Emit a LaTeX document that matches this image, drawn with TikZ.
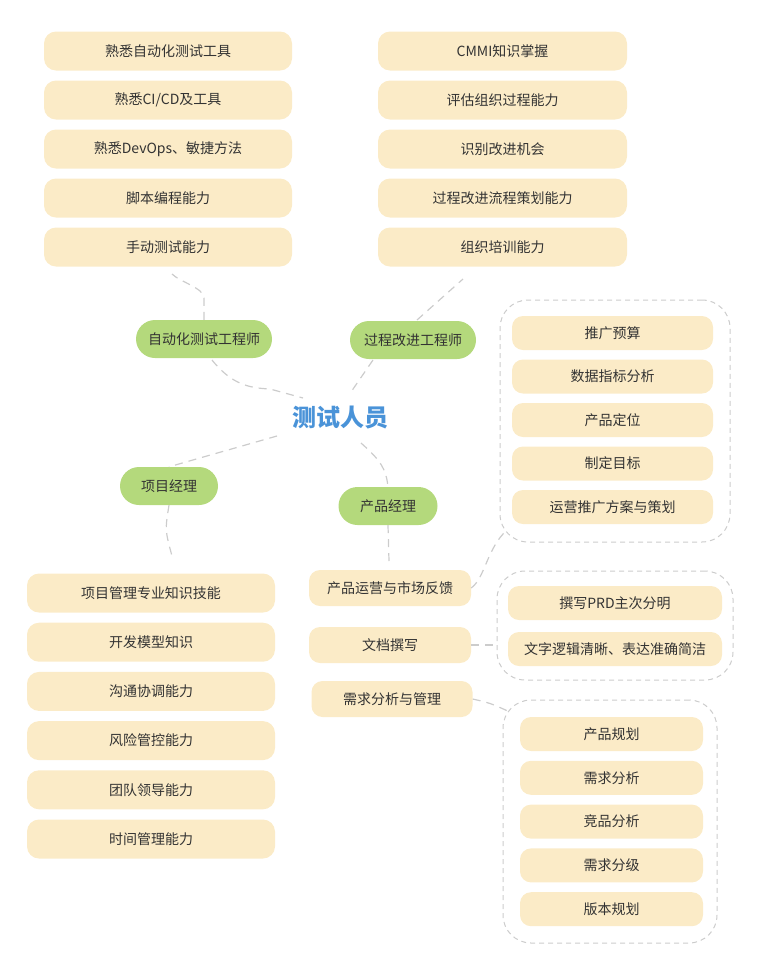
\documentclass[tikz,border=0pt]{standalone}
\usepackage{fontspec}
\setmainfont{Noto Sans CJK SC}
\usetikzlibrary{positioning}
\definecolor{itemfill}{HTML}{FBEBC7}
\definecolor{rolefill}{HTML}{B4D97C}
\definecolor{titleblue}{HTML}{4A93D8}
\definecolor{linkgray}{HTML}{CCCCCC}
\definecolor{textgray}{HTML}{333333}
\begin{document}
\begin{tikzpicture}[x=1pt,y=-1pt,
    item/.style={fill=itemfill, rounded corners=12pt, minimum height=39pt, inner sep=0pt,
        text=textgray, font=\fontsize{14}{17}\selectfont},
    smallitem/.style={item, minimum height=34pt, rounded corners=11pt},
    role/.style={fill=rolefill, rounded corners=19pt, minimum height=38pt, inner sep=0pt,
        text=textgray, font=\fontsize{14}{17}\selectfont},
    link/.style={draw=linkgray, line width=1.2pt, dash pattern=on 8pt off 6pt},
    group/.style={draw=linkgray, line width=1pt, dash pattern=on 5pt off 4pt, rounded corners=28pt}]
    \useasboundingbox (0,0) rectangle (760,970);
    % Center
    \node[text=titleblue, font=\fontsize{24}{28}\selectfont\bfseries] (tester) at (340,418) {测试人员};
    % Roles
    \node[role, minimum width=136pt] (autoeng) at (204,339) {自动化测试工程师};
    \node[role, minimum width=126pt] (proceng) at (413,340) {过程改进工程师};
    \node[role, minimum width=98pt] (pm) at (169,486) {项目经理};
    \node[role, minimum width=99pt] (prodm) at (388,506) {产品经理};
    % Automation engineer skills
    \foreach \txt [count=\i] in {熟悉自动化测试工具, 熟悉CI/CD及工具, 熟悉DevOps、敏捷方法, 脚本编程能力, 手动测试能力}
        \node[item, minimum width=248pt] (auto\i) at (168,{51+49*(\i-1)}) {\txt};
    % Process engineer skills
    \foreach \txt [count=\i] in {CMMI知识掌握, 评估组织过程能力, 识别改进机会, 过程改进流程策划能力, 组织培训能力}
        \node[item, minimum width=249pt] (proc\i) at (502.5,{51+49*(\i-1)}) {\txt};
    % Project manager skills
    \foreach \txt [count=\i] in {项目管理专业知识技能, 开发模型知识, 沟通协调能力, 风险管控能力, 团队领导能力, 时间管理能力}
        \node[item, minimum width=248pt] (pmskill\i) at (151,{593+49.2*(\i-1)}) {\txt};
    % Product manager areas
    \node[smallitem, minimum width=162pt, minimum height=36pt] (ops) at (390,588) {产品运营与市场反馈};
    \node[smallitem, minimum width=162pt, minimum height=36pt] (doc) at (390,645) {文档撰写};
    \node[smallitem, minimum width=161pt, minimum height=36pt] (req) at (392,699) {需求分析与管理};
    % Groups
    \node[group, minimum width=230pt, minimum height=242pt] (opsgroup) at (615,421) {};
    \node[group, minimum width=236pt, minimum height=109pt] (docgroup) at (615,625.5) {};
    \node[group, minimum width=214pt, minimum height=243pt] (reqgroup) at (610,821.5) {};
    \foreach \txt [count=\i] in {推广预算, 数据指标分析, 产品定位, 制定目标, 运营推广方案与策划}
        \node[smallitem, minimum width=201pt] (ops\i) at (612.5,{333+43.5*(\i-1)}) {\txt};
    \foreach \txt [count=\i] in {撰写PRD主次分明, 文字逻辑清晰、表达准确简洁}
        \node[smallitem, minimum width=214pt] (doc\i) at (615,{603+46*(\i-1)}) {\txt};
    \foreach \txt [count=\i] in {产品规划, 需求分析, 竞品分析, 需求分级, 版本规划}
        \node[smallitem, minimum width=183pt] (req\i) at (611.5,{734+43.8*(\i-1)}) {\txt};
    % Free ends of connectors
    \coordinate (autotop) at (172,274);
    \coordinate (autocenter) at (303,398);
    \coordinate (proctop) at (463,279);
    \coordinate (proccenter) at (351,392);
    \coordinate (pmcenter) at (277,436);
    \coordinate (prodcenter) at (361,443);
    \coordinate (pmbottom) at (172,556);
    \coordinate (prodbottom) at (389,561);
    \coordinate (opsend) at (507,530);
    \coordinate (docend) at (497,645);
    \coordinate (reqend) at (510,712);
    % Connectors
    \draw[link] (autoeng.north) -- (204,298) .. controls (204,288) and (180,282) .. (autotop);
    \draw[link] (212,360) .. controls (232,385) and (250,388) .. (270,389) -- (autocenter);
    \draw[link] (417,320) -- (proctop);
    \draw[link] (373,360) -- (proccenter);
    \draw[link] (pmcenter) -- (pm.north);
    \draw[link] (prodcenter) .. controls (380,460) and (386,468) .. (prodm.north);
    \draw[link] (pm.south) .. controls (165,530) .. (pmbottom);
    \draw[link] (prodm.south) -- (prodbottom);
    \draw[link] (ops.east) .. controls (485,578) and (487,548) .. (opsend);
    \draw[link] (doc.east) -- (docend);
    \draw[link] (req.east) .. controls (490,703) .. (reqend);
\end{tikzpicture}
\end{document}
